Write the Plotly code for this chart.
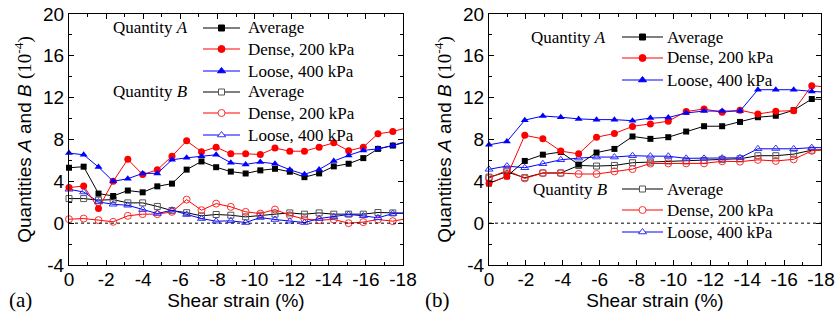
import plotly.graph_objects as go
from plotly.subplots import make_subplots

# ---------------- data ----------------
STRAIN_A = [0, -0.79, -1.59, -2.38, -3.17, -3.97, -4.76, -5.55, -6.34, -7.14, -7.93, -8.72,
            -9.52, -10.31, -11.10, -11.90, -12.69, -13.48, -14.27, -15.07, -15.86, -16.65, -17.45, -18.24]
STRAIN_B = [0, -0.97, -1.94, -2.92, -3.89, -4.86, -5.83, -6.80, -7.78, -8.75, -9.72, -10.69,
            -11.66, -12.64, -13.61, -14.58, -15.55, -16.52, -17.50, -18.47]

# panel (a)
A_AVG_a = [5.3, 5.4, 2.83, 2.6, 3.12, 2.95, 3.52, 3.78, 5.12, 5.9, 5.35, 4.93,
           4.75, 5.05, 5.2, 4.92, 4.4, 4.76, 5.43, 5.68, 6.22, 7.1, 7.42, 7.8]
A_DENSE_a = [3.4, 3.56, 1.4, 4.0, 6.1, 4.65, 5.1, 6.41, 7.87, 6.83, 7.27, 6.63,
             6.63, 6.57, 7.18, 6.88, 6.88, 7.27, 7.68, 6.92, 7.27, 8.54, 8.76, 9.15]
A_LOOSE_a = [6.7, 6.54, 5.36, 4.0, 4.25, 4.76, 4.76, 6.06, 6.25, 6.41, 6.54, 5.78,
             5.62, 5.84, 5.68, 5.11, 4.67, 5.14, 5.94, 6.48, 6.95, 7.11, 7.43, 7.85]
B_AVG_a = [2.35, 2.35, 2.2, 2.25, 1.94, 1.94, 1.6, 1.2, 1.0, 0.7, 0.83, 0.76,
           0.6, 0.76, 0.86, 0.98, 0.86, 0.98, 0.86, 0.86, 0.86, 1.02, 0.98, 0.95]
B_DENSE_a = [0.38, 0.44, 0.29, 0.13, 0.7, 0.86, 0.86, 1.08, 2.25, 1.24, 1.87, 1.56,
             1.08, 0.92, 1.3, 0.76, 0.38, 0.29, 0.35, 0.0, 0.1, 0.35, 0.19, 0.45]
B_LOOSE_a = [3.24, 2.98, 2.03, 1.81, 1.71, 1.3, 0.92, 1.24, 0.83, 0.44, 0.19, 0.22,
             0.06, 0.54, 0.35, 0.19, 0.06, 0.44, 0.6, 0.83, 0.7, 0.51, 0.92, 0.97]

# panel (b)
A_AVG_b = [3.8, 4.48, 5.95, 6.55, 6.8, 5.6, 6.75, 7.1, 8.29, 8.06, 8.22, 8.76,
           9.27, 9.27, 9.68, 10.13, 10.27, 10.8, 11.87, 11.8]
A_DENSE_b = [3.82, 4.48, 8.4, 8.06, 6.89, 6.63, 8.22, 8.57, 9.25, 9.49, 9.75, 10.67,
             10.92, 10.6, 10.8, 10.44, 10.7, 10.76, 13.15, 12.98]
A_LOOSE_b = [7.49, 7.8, 9.85, 10.25, 10.13, 9.97, 9.9, 9.9, 9.8, 10.05, 10.1, 10.54,
             10.72, 10.72, 10.72, 12.76, 12.76, 12.76, 12.6, 12.5]
B_AVG_b = [4.4, 4.9, 4.35, 4.8, 4.8, 5.52, 5.46, 5.52, 5.78, 5.84, 5.95, 5.95,
           6.0, 6.1, 6.16, 6.45, 6.45, 6.6, 6.98, 7.05]
B_DENSE_b = [4.3, 5.05, 4.28, 4.79, 4.79, 4.7, 4.7, 4.95, 5.17, 5.7, 5.72, 5.72,
             5.72, 5.92, 5.88, 6.05, 5.95, 6.1, 6.92, 7.05]
B_LOOSE_b = [5.15, 5.46, 5.3, 5.68, 6.06, 6.22, 6.32, 6.32, 6.45, 6.41, 6.4, 6.2,
             6.2, 6.22, 6.25, 7.11, 7.14, 7.11, 7.22, 7.22]

SERIES_NAMES = ["Average", "Dense, 200 kPa", "Loose, 400 kPa"]
GROUP_NAMES = ["Quantity <i>A</i>", "Quantity <i>B</i>"]
X_TICKS = [0, -2, -4, -6, -8, -10, -12, -14, -16, -18]
X_TICK_LABELS = ["0", "-2", "-4", "-6", "-8", "-10", "-12", "-14", "-16", "-18"]
Y_TICKS = [-4, 0, 4, 8, 12, 16, 20]
Y_TICK_LABELS = ["-4", "0", "4", "8", "12", "16", "20"]

# ---------------- styling ----------------
SANS = "Liberation Sans, Arial, sans-serif"
SERIF = "Liberation Serif, Times New Roman, serif"
COLORS = ["#000000", "#ff0000", "#0000ff"]
FILLED = ["square", "circle", "triangle-up"]
OPEN = ["square-open", "circle-open", "triangle-up-open"]
MSIZE = [6, 7, 7]
OPEN_EDGE = ["#555555", "#ff3030", "#3030ff"]

W, H = 837, 320
ML, MR, MT, MB = 69, 16, 14, 55
PW = W - ML - MR
PH = H - MT - MB


def px2x(px):
    return (px - ML) / PW


def py2y(py):
    return (H - MB - py) / PH


fig = make_subplots(rows=1, cols=2)

panels = [
    (1, STRAIN_A, [A_AVG_a, A_DENSE_a, A_LOOSE_a], [B_AVG_a, B_DENSE_a, B_LOOSE_a]),
    (2, STRAIN_B, [A_AVG_b, A_DENSE_b, A_LOOSE_b], [B_AVG_b, B_DENSE_b, B_LOOSE_b]),
]

for col, xs, a_list, b_list in panels:
    for k in range(3):
        fig.add_trace(go.Scatter(
            x=xs, y=b_list[k], mode="lines+markers", name=SERIES_NAMES[k], showlegend=False,
            line=dict(color=COLORS[k], width=1),
            marker=dict(symbol=OPEN[k], size=MSIZE[k], color=OPEN_EDGE[k], line=dict(width=1)),
            cliponaxis=False,
        ), row=1, col=col)
    for k in range(3):
        fig.add_trace(go.Scatter(
            x=xs, y=a_list[k], mode="lines+markers", name=SERIES_NAMES[k], showlegend=False,
            line=dict(color=COLORS[k], width=1),
            marker=dict(symbol=FILLED[k], size=MSIZE[k], color=COLORS[k]),
            cliponaxis=False,
        ), row=1, col=col)
    fig.add_hline(y=0, line=dict(color="black", width=1, dash="dot"), row=1, col=col)

axis_common = dict(
    showline=True, linecolor="black", linewidth=1, mirror="ticks",
    ticks="inside", ticklen=5, tickwidth=1, tickcolor="black",
    showgrid=False, zeroline=False,
    tickfont=dict(family=SANS, size=19, color="black"),
)

for i, dom in ((1, [0, px2x(403)]), (2, [px2x(489), 1])):
    xa = "xaxis" if i == 1 else "xaxis2"
    ya = "yaxis" if i == 1 else "yaxis2"
    fig.layout[xa].update(
        domain=dom, range=[0, -18], tickmode="array", tickvals=X_TICKS, ticktext=X_TICK_LABELS,
        minor=dict(ticks="inside", ticklen=3, tickcolor="black",
                   tickvals=[-v for v in range(0, 19, 1)]),
        ticklabelstandoff=-3,
        title=dict(text="Shear strain (%)", font=dict(family=SANS, size=19, color="black"), standoff=2),
        **axis_common,
    )
    fig.layout[ya].update(
        range=[-4, 20], tickmode="array", tickvals=Y_TICKS, ticktext=Y_TICK_LABELS,
        minor=dict(ticks="inside", ticklen=3, tickcolor="black",
                   tickvals=list(range(-4, 21, 2))),
        title=dict(
            text="Quantities <i>A</i> and <i>B</i> <span style='font-family:Liberation Serif'>(10<sup>-4</sup>)</span>",
            font=dict(family=SANS, size=19, color="black"), standoff=6),
        **axis_common,
    )

# ---------------- hand-built legends (two groups per panel) ----------------
# (group-label right edge, sample line x0, x1, text x, row centres)
LEGEND_LAYOUT = [
    (190, 203, 240, 246, [28, 49, 71], 0),
    (190, 203, 240, 246, [92, 113, 135], 1),
    (608, 622, 663, 665, [37, 58, 80], 0),
    (610, 622, 663, 665, [189, 210, 232], 1),
]


def swatch_marker(kind, cx, cy, filled, color):
    fill = color if filled else "white"
    edge = color if filled else OPEN_EDGE[kind]
    if kind == 0:
        h = 3
        return dict(type="rect", xref="paper", yref="paper",
                    x0=px2x(cx - h), x1=px2x(cx + h), y0=py2y(cy + h), y1=py2y(cy - h),
                    fillcolor=fill, line=dict(color=edge, width=1))
    if kind == 1:
        r = 3.5
        return dict(type="circle", xref="paper", yref="paper",
                    x0=px2x(cx - r), x1=px2x(cx + r), y0=py2y(cy + r), y1=py2y(cy - r),
                    fillcolor=fill, line=dict(color=edge, width=1))
    r = 3.5
    rt = r * 2 / 3 ** 0.5
    path = "M{},{} L{},{} L{},{} Z".format(
        px2x(cx - rt), py2y(cy + r / 2), px2x(cx + rt), py2y(cy + r / 2), px2x(cx), py2y(cy - r))
    return dict(type="path", xref="paper", yref="paper", path=path,
                fillcolor=fill, line=dict(color=edge, width=1))


for grp_right, lx0, lx1, tx, rows, g in LEGEND_LAYOUT:
    fig.add_annotation(text=GROUP_NAMES[g], x=px2x(grp_right), y=py2y(rows[0]),
                       xref="paper", yref="paper", xanchor="right", yanchor="middle",
                       showarrow=False, font=dict(family=SERIF, size=17, color="black"))
    for k, cy in enumerate(rows):
        fig.add_shape(type="line", xref="paper", yref="paper",
                      x0=px2x(lx0), x1=px2x(lx1), y0=py2y(cy), y1=py2y(cy),
                      line=dict(color=COLORS[k], width=1))
        fig.add_shape(**swatch_marker(k, (lx0 + lx1) / 2, cy, g == 0, COLORS[k]))
        fig.add_annotation(text=SERIES_NAMES[k], x=px2x(tx), y=py2y(cy),
                           xref="paper", yref="paper", xanchor="left", yanchor="middle",
                           showarrow=False, font=dict(family=SERIF, size=17, color="black"))

for txt, cx in (("(a)", 20), ("(b)", 437)):
    fig.add_annotation(text=txt, x=px2x(cx), y=py2y(300), xref="paper", yref="paper",
                       xanchor="center", yanchor="middle", showarrow=False,
                       font=dict(family=SERIF, size=21, color="black"))

fig.update_layout(
    width=W, height=H, margin=dict(l=ML, r=MR, t=MT, b=MB, autoexpand=False),
    plot_bgcolor="white", paper_bgcolor="white", showlegend=False,
)

fig.write_html("out.html", config={"displayModeBar": False},
               post_script="document.body.style.margin='0px';")
